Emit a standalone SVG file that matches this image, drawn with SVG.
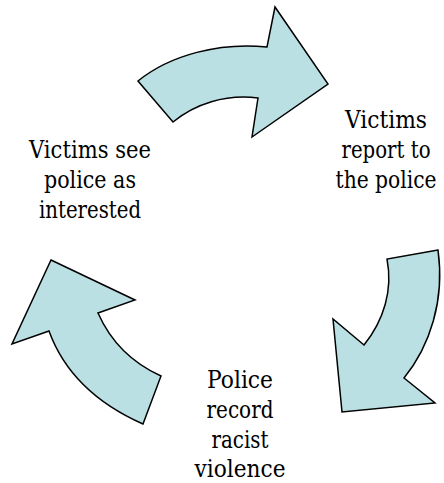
<svg xmlns="http://www.w3.org/2000/svg" width="444" height="483" viewBox="0 0 444 483">
<style>
.arrow{fill:#BAE0E3;stroke:#000;stroke-width:1.5;stroke-linejoin:miter}
.lbl{font-family:'DejaVu Serif',serif;font-size:24px;fill:#000;text-anchor:middle}
</style>
<rect width="444" height="483" fill="#fff"/>
<g id="connectors">
<path id="arrow-top" class="arrow" d="M138,81 C170,55 220,42 267,47 L275,7 L328,84 L252,137 L258,98 C225,94 195,104 173,122 Z"/>
<path id="arrow-right" class="arrow" d="M438,250 L387,259 C393,290 384,320 364,345 L333,319 L342,412 L435,403 L404,378 C430,346 445,300 438,250 Z"/>
<path id="arrow-left" class="arrow" d="M51,260 L135,300 L98,313 C110,340 130,362 161,376 L143,424 C100,405 65,375 49,331 L12,344 Z"/>
</g>
<g id="node-report" class="lbl">
<text x="386" y="128" textLength="82" lengthAdjust="spacingAndGlyphs">Victims</text>
<text x="386" y="158" textLength="89" lengthAdjust="spacingAndGlyphs">report to</text>
<text x="386" y="188" textLength="101" lengthAdjust="spacingAndGlyphs">the police</text>
</g>
<g id="node-record" class="lbl">
<text x="240" y="388" textLength="66" lengthAdjust="spacingAndGlyphs">Police</text>
<text x="240" y="418" textLength="67" lengthAdjust="spacingAndGlyphs">record</text>
<text x="240" y="448" textLength="57" lengthAdjust="spacingAndGlyphs">racist</text>
<text x="240" y="477" textLength="91" lengthAdjust="spacingAndGlyphs">violence</text>
</g>
<g id="node-see" class="lbl">
<text x="90" y="158" textLength="122" lengthAdjust="spacingAndGlyphs">Victims see</text>
<text x="90" y="188" textLength="92" lengthAdjust="spacingAndGlyphs">police as</text>
<text x="90" y="218" textLength="102" lengthAdjust="spacingAndGlyphs">interested</text>
</g>
</svg>
